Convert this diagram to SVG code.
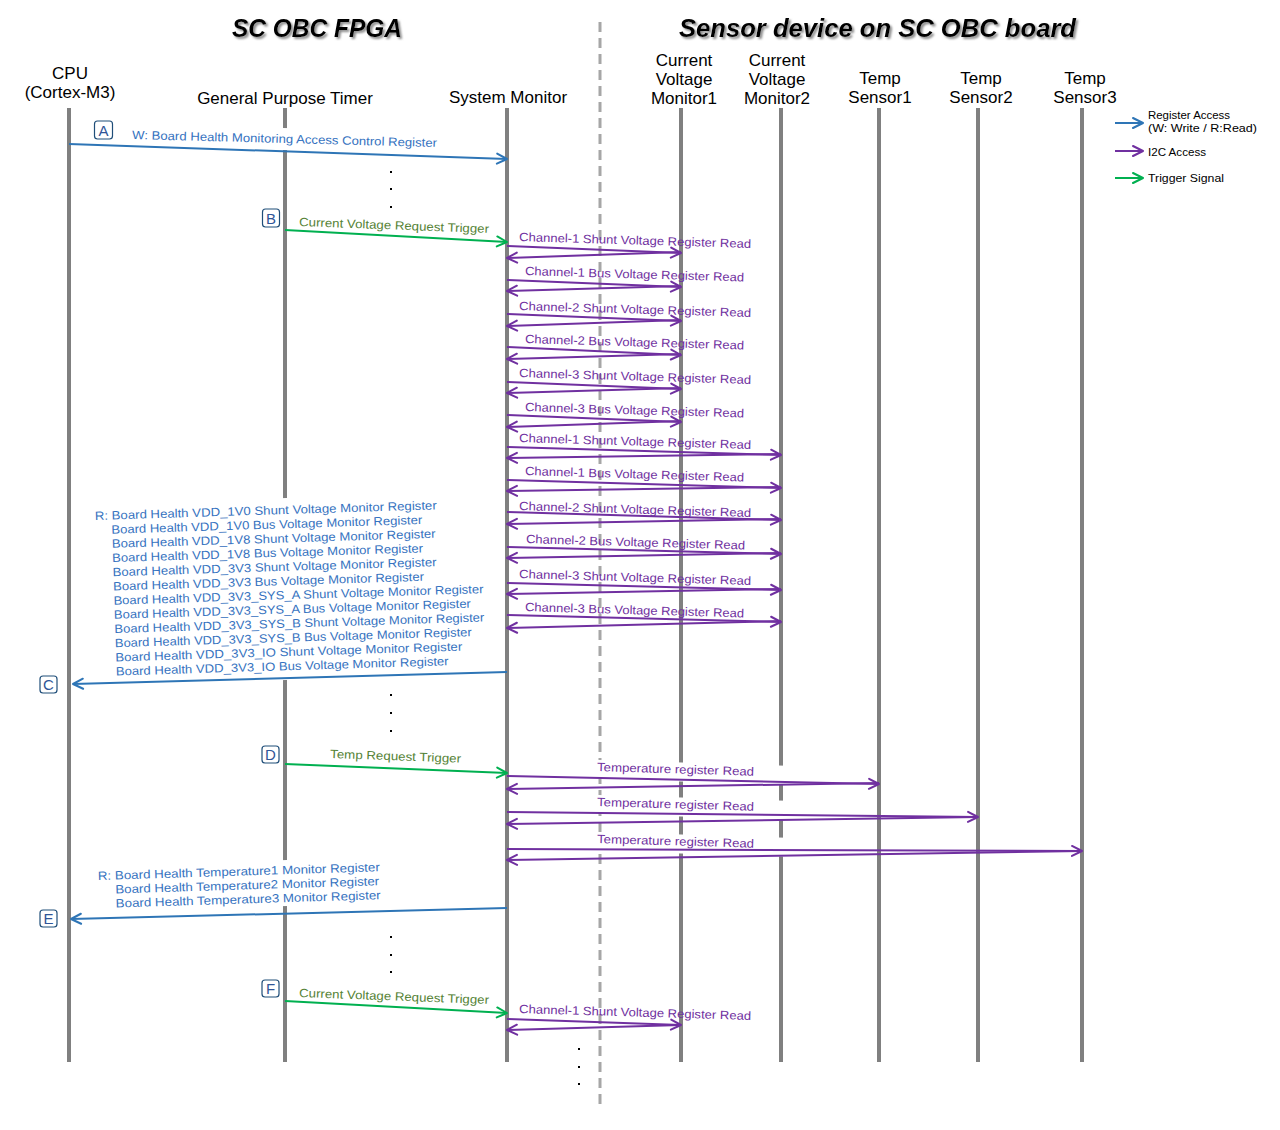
<svg xmlns="http://www.w3.org/2000/svg" width="1280" height="1130" viewBox="0 0 1280 1130">
<defs>
<style>
.ll{stroke:#808080;stroke-width:4;fill:none}
.nl{font-family:"Liberation Sans",Arial,sans-serif;font-size:17px;fill:#000;text-anchor:middle}
.ttl{font-family:"Liberation Sans",Arial,sans-serif;font-size:25px;font-weight:bold;font-style:italic;fill:#000;text-anchor:middle}
.lb{font-family:"Liberation Sans",Arial,sans-serif;font-size:12px}
.tb{fill:#3572C0}
.tg{fill:#548235}
.tp{fill:#7030A0}
.ab{stroke:#2E75B6;stroke-width:2;fill:none;marker-end:url(#mb)}
.ag{stroke:#00B050;stroke-width:2;fill:none;marker-end:url(#mg)}
.ap{stroke:#7030A0;stroke-width:2;fill:none;marker-end:url(#mp)}
.bx{fill:#fff;stroke:#1F4E79;stroke-width:1.2}
.bt{font-family:"Liberation Sans",Arial,sans-serif;font-size:15px;fill:#2F5597;text-anchor:middle}
.lg{font-family:"Liberation Sans",Arial,sans-serif;font-size:11px;fill:#000}
.wb{fill:#fff;stroke:none}
.dot{fill:#000}
</style>
<marker id="mb" viewBox="0 0 12 12" refX="11.5" refY="6" markerWidth="12" markerHeight="12" markerUnits="userSpaceOnUse" orient="auto" overflow="visible"><path d="M1.5,1 L11.5,6 L1.5,11" fill="none" stroke="#2E75B6" stroke-width="2" stroke-linejoin="round" stroke-linecap="round"/></marker>
<marker id="mg" viewBox="0 0 12 12" refX="11.5" refY="6" markerWidth="12" markerHeight="12" markerUnits="userSpaceOnUse" orient="auto" overflow="visible"><path d="M1.5,1 L11.5,6 L1.5,11" fill="none" stroke="#00B050" stroke-width="2" stroke-linejoin="round" stroke-linecap="round"/></marker>
<marker id="mp" viewBox="0 0 12 12" refX="11.5" refY="6" markerWidth="12" markerHeight="12" markerUnits="userSpaceOnUse" orient="auto" overflow="visible"><path d="M1.5,1 L11.5,6 L1.5,11" fill="none" stroke="#7030A0" stroke-width="2" stroke-linejoin="round" stroke-linecap="round"/></marker>
<filter id="sh" x="-10%" y="-30%" width="120%" height="160%"><feDropShadow dx="2" dy="2" stdDeviation="1.2" flood-color="#7F7F7F" flood-opacity="0.9"/></filter>
</defs>
<rect width="1280" height="1130" fill="#fff"/>

<g id="titles" filter="url(#sh)">
<text class="ttl" x="317" y="37" textLength="170" lengthAdjust="spacingAndGlyphs">SC OBC FPGA</text>
<text class="ttl" x="877.5" y="37" textLength="397" lengthAdjust="spacingAndGlyphs">Sensor device on SC OBC board</text>
</g>

<line id="divider" x1="600" y1="22" x2="600" y2="1105" stroke="#A6A6A6" stroke-width="3" stroke-dasharray="10,6"/>

<g id="node-cpu"><text class="nl" x="70" y="79">CPU</text><text class="nl" x="70" y="98">(Cortex-M3)</text><line class="ll" x1="69" y1="108" x2="69" y2="1062"/></g>
<g id="node-gpt"><text class="nl" x="285" y="104">General Purpose Timer</text><line class="ll" x1="285" y1="108" x2="285" y2="1062"/></g>
<g id="node-sysmon"><text class="nl" x="508" y="103">System Monitor</text><line class="ll" x1="507" y1="108" x2="507" y2="1062"/></g>
<g id="node-cvm1"><text class="nl" x="684" y="66">Current</text><text class="nl" x="684" y="85">Voltage</text><text class="nl" x="684" y="104">Monitor1</text><line class="ll" x1="681" y1="108" x2="681" y2="1062"/></g>
<g id="node-cvm2"><text class="nl" x="777" y="66">Current</text><text class="nl" x="777" y="85">Voltage</text><text class="nl" x="777" y="104">Monitor2</text><line class="ll" x1="781" y1="108" x2="781" y2="1062"/></g>
<g id="node-ts1"><text class="nl" x="880" y="84">Temp</text><text class="nl" x="880" y="103">Sensor1</text><line class="ll" x1="879" y1="108" x2="879" y2="1062"/></g>
<g id="node-ts2"><text class="nl" x="981" y="84">Temp</text><text class="nl" x="981" y="103">Sensor2</text><line class="ll" x1="978" y1="108" x2="978" y2="1062"/></g>
<g id="node-ts3"><text class="nl" x="1085" y="84">Temp</text><text class="nl" x="1085" y="103">Sensor3</text><line class="ll" x1="1082" y1="108" x2="1082" y2="1062"/></g>

<g id="label-backgrounds">
<rect class="wb" x="128" y="124" width="313" height="22" transform="rotate(1.5 132 139)"/>
<rect class="wb" x="90" y="504" width="398" height="182" transform="rotate(-1.8 95 520)"/>
<rect class="wb" x="94" y="866" width="292" height="46" transform="rotate(-1.8 98 880)"/>
<rect class="wb" x="590" y="760" width="205" height="19" transform="rotate(1.7 597 771)"/>
<rect class="wb" x="590" y="795" width="205" height="19" transform="rotate(1.7 597 806)"/>
<rect class="wb" x="590" y="832" width="205" height="19" transform="rotate(1.7 597 843)"/>
</g>

<g id="dots">
<rect class="dot" x="390" y="171" width="2" height="2"/><rect class="dot" x="390" y="188" width="2" height="2"/><rect class="dot" x="390" y="206" width="2" height="2"/>
<rect class="dot" x="390" y="694" width="2" height="2"/><rect class="dot" x="390" y="712" width="2" height="2"/><rect class="dot" x="390" y="730" width="2" height="2"/>
<rect class="dot" x="390" y="936" width="2" height="2"/><rect class="dot" x="390" y="954" width="2" height="2"/><rect class="dot" x="390" y="971" width="2" height="2"/>
<rect class="dot" x="578" y="1048" width="2" height="2"/><rect class="dot" x="578" y="1066" width="2" height="2"/><rect class="dot" x="578" y="1083" width="2" height="2"/>
</g>

<g id="connectors">
<!-- A -->
<line class="ab" x1="69" y1="144" x2="507" y2="159"/>
<text class="lb tb" x="132" y="139" textLength="305" lengthAdjust="spacingAndGlyphs" transform="rotate(1.5 132 139)">W: Board Health Monitoring Access Control Register</text>
<!-- B -->
<line class="ag" x1="285" y1="230" x2="507" y2="242"/>
<text class="lb tg" x="299" y="226" textLength="190" lengthAdjust="spacingAndGlyphs" transform="rotate(2.1 299 226)">Current Voltage Request Trigger</text>
<!-- CVM1 reads -->
<line class="ap" x1="507" y1="246" x2="681" y2="253"/><line class="ap" x1="681" y1="252" x2="507" y2="258"/>
<text class="lb tp" x="519" y="241" textLength="232" lengthAdjust="spacingAndGlyphs" transform="rotate(1.7 519 241)">Channel-1 Shunt Voltage Register Read</text>
<line class="ap" x1="507" y1="280" x2="681" y2="287"/><line class="ap" x1="681" y1="286" x2="507" y2="291"/>
<text class="lb tp" x="525" y="275" textLength="219" lengthAdjust="spacingAndGlyphs" transform="rotate(1.7 525 275)">Channel-1 Bus Voltage Register Read</text>
<line class="ap" x1="507" y1="314" x2="681" y2="321"/><line class="ap" x1="681" y1="320" x2="507" y2="326"/>
<text class="lb tp" x="519" y="310" textLength="232" lengthAdjust="spacingAndGlyphs" transform="rotate(1.7 519 310)">Channel-2 Shunt Voltage Register Read</text>
<line class="ap" x1="507" y1="347" x2="681" y2="355"/><line class="ap" x1="681" y1="354" x2="507" y2="359"/>
<text class="lb tp" x="525" y="343" textLength="219" lengthAdjust="spacingAndGlyphs" transform="rotate(1.7 525 343)">Channel-2 Bus Voltage Register Read</text>
<line class="ap" x1="507" y1="382" x2="681" y2="389"/><line class="ap" x1="681" y1="388" x2="507" y2="393"/>
<text class="lb tp" x="519" y="377" textLength="232" lengthAdjust="spacingAndGlyphs" transform="rotate(1.7 519 377)">Channel-3 Shunt Voltage Register Read</text>
<line class="ap" x1="507" y1="415" x2="681" y2="422"/><line class="ap" x1="681" y1="421" x2="507" y2="427"/>
<text class="lb tp" x="525" y="411" textLength="219" lengthAdjust="spacingAndGlyphs" transform="rotate(1.7 525 411)">Channel-3 Bus Voltage Register Read</text>
<!-- CVM2 reads -->
<line class="ap" x1="507" y1="447" x2="781" y2="455"/><line class="ap" x1="781" y1="454" x2="507" y2="458"/>
<text class="lb tp" x="519" y="442" textLength="232" lengthAdjust="spacingAndGlyphs" transform="rotate(1.7 519 442)">Channel-1 Shunt Voltage Register Read</text>
<line class="ap" x1="507" y1="480" x2="781" y2="488"/><line class="ap" x1="781" y1="487" x2="507" y2="491"/>
<text class="lb tp" x="525" y="475" textLength="219" lengthAdjust="spacingAndGlyphs" transform="rotate(1.7 525 475)">Channel-1 Bus Voltage Register Read</text>
<line class="ap" x1="507" y1="512" x2="781" y2="520"/><line class="ap" x1="781" y1="519" x2="507" y2="524"/>
<text class="lb tp" x="519" y="510" textLength="232" lengthAdjust="spacingAndGlyphs" transform="rotate(1.7 519 510)">Channel-2 Shunt Voltage Register Read</text>
<line class="ap" x1="507" y1="547" x2="781" y2="554"/><line class="ap" x1="781" y1="553" x2="507" y2="558"/>
<text class="lb tp" x="526" y="543" textLength="219" lengthAdjust="spacingAndGlyphs" transform="rotate(1.7 526 543)">Channel-2 Bus Voltage Register Read</text>
<line class="ap" x1="507" y1="583" x2="781" y2="590"/><line class="ap" x1="781" y1="589" x2="507" y2="594"/>
<text class="lb tp" x="519" y="578" textLength="232" lengthAdjust="spacingAndGlyphs" transform="rotate(1.7 519 578)">Channel-3 Shunt Voltage Register Read</text>
<line class="ap" x1="507" y1="615" x2="781" y2="622"/><line class="ap" x1="781" y1="621" x2="507" y2="628"/>
<text class="lb tp" x="525" y="611" textLength="219" lengthAdjust="spacingAndGlyphs" transform="rotate(1.7 525 611)">Channel-3 Bus Voltage Register Read</text>
<!-- C -->
<line class="ab" x1="507" y1="672" x2="73" y2="684"/>
<g class="lb tb" transform="rotate(-1.8 95 520)">
<text x="95" y="520" textLength="342" lengthAdjust="spacingAndGlyphs">R: Board Health VDD_1V0 Shunt Voltage Monitor Register</text>
<text x="111" y="534.2" textLength="311" lengthAdjust="spacingAndGlyphs">Board Health VDD_1V0 Bus Voltage Monitor Register</text>
<text x="111" y="548.4" textLength="324" lengthAdjust="spacingAndGlyphs">Board Health VDD_1V8 Shunt Voltage Monitor Register</text>
<text x="111" y="562.6" textLength="311" lengthAdjust="spacingAndGlyphs">Board Health VDD_1V8 Bus Voltage Monitor Register</text>
<text x="111" y="576.8" textLength="324" lengthAdjust="spacingAndGlyphs">Board Health VDD_3V3 Shunt Voltage Monitor Register</text>
<text x="111" y="591" textLength="311" lengthAdjust="spacingAndGlyphs">Board Health VDD_3V3 Bus Voltage Monitor Register</text>
<text x="111" y="605.2" textLength="370" lengthAdjust="spacingAndGlyphs">Board Health VDD_3V3_SYS_A Shunt Voltage Monitor Register</text>
<text x="111" y="619.4" textLength="357" lengthAdjust="spacingAndGlyphs">Board Health VDD_3V3_SYS_A Bus Voltage Monitor Register</text>
<text x="111" y="633.6" textLength="370" lengthAdjust="spacingAndGlyphs">Board Health VDD_3V3_SYS_B Shunt Voltage Monitor Register</text>
<text x="111" y="647.8" textLength="357" lengthAdjust="spacingAndGlyphs">Board Health VDD_3V3_SYS_B Bus Voltage Monitor Register</text>
<text x="111" y="662" textLength="347" lengthAdjust="spacingAndGlyphs">Board Health VDD_3V3_IO Shunt Voltage Monitor Register</text>
<text x="111" y="676.2" textLength="333" lengthAdjust="spacingAndGlyphs">Board Health VDD_3V3_IO Bus Voltage Monitor Register</text>
</g>
<!-- D -->
<line class="ag" x1="285" y1="764" x2="507" y2="773"/>
<text class="lb tg" x="330" y="758" textLength="131" lengthAdjust="spacingAndGlyphs" transform="rotate(2 330 758)">Temp Request Trigger</text>
<!-- Temp reads -->
<line class="ap" x1="507" y1="776" x2="879" y2="784"/><line class="ap" x1="879" y1="783" x2="507" y2="789"/>
<text class="lb tp" x="597" y="771" textLength="157" lengthAdjust="spacingAndGlyphs" transform="rotate(1.7 597 771)">Temperature register Read</text>
<line class="ap" x1="507" y1="812" x2="978" y2="817"/><line class="ap" x1="978" y1="817" x2="507" y2="824"/>
<text class="lb tp" x="597" y="806" textLength="157" lengthAdjust="spacingAndGlyphs" transform="rotate(1.7 597 806)">Temperature register Read</text>
<line class="ap" x1="507" y1="849" x2="1082" y2="851"/><line class="ap" x1="1082" y1="851" x2="507" y2="860"/>
<text class="lb tp" x="597" y="843" textLength="157" lengthAdjust="spacingAndGlyphs" transform="rotate(1.7 597 843)">Temperature register Read</text>
<!-- E -->
<line class="ab" x1="507" y1="908" x2="71" y2="919"/>
<g class="lb tb" transform="rotate(-1.8 98 880)">
<text x="98" y="880" textLength="282" lengthAdjust="spacingAndGlyphs">R: Board Health Temperature1 Monitor Register</text>
<text x="115" y="894" textLength="264" lengthAdjust="spacingAndGlyphs">Board Health Temperature2 Monitor Register</text>
<text x="115" y="908" textLength="265" lengthAdjust="spacingAndGlyphs">Board Health Temperature3 Monitor Register</text>
</g>
<!-- F -->
<line class="ag" x1="285" y1="1001" x2="507" y2="1013"/>
<text class="lb tg" x="299" y="997" textLength="190" lengthAdjust="spacingAndGlyphs" transform="rotate(2.1 299 997)">Current Voltage Request Trigger</text>
<line class="ap" x1="507" y1="1019" x2="681" y2="1025"/><line class="ap" x1="681" y1="1025" x2="507" y2="1030"/>
<text class="lb tp" x="519" y="1013" textLength="232" lengthAdjust="spacingAndGlyphs" transform="rotate(1.7 519 1013)">Channel-1 Shunt Voltage Register Read</text>
</g>

<g id="step-labels">
<g id="step-A"><rect class="bx" x="94.5" y="121" width="18" height="18" rx="3"/><text class="bt" x="103.5" y="135.5">A</text></g>
<g id="step-B"><rect class="bx" x="262.5" y="209" width="17" height="18" rx="3"/><text class="bt" x="271" y="223.5">B</text></g>
<g id="step-C"><rect class="bx" x="40" y="676" width="17" height="17" rx="3"/><text class="bt" x="48.5" y="690">C</text></g>
<g id="step-D"><rect class="bx" x="262" y="746" width="17" height="17" rx="3"/><text class="bt" x="270.5" y="760">D</text></g>
<g id="step-E"><rect class="bx" x="40" y="910" width="17" height="17" rx="3"/><text class="bt" x="48.5" y="924">E</text></g>
<g id="step-F"><rect class="bx" x="262" y="980" width="17" height="17" rx="3"/><text class="bt" x="270.5" y="994">F</text></g>
</g>

<g id="legend">
<line class="ab" x1="1115" y1="123" x2="1143" y2="123"/>
<text class="lg" x="1148" y="119" textLength="82" lengthAdjust="spacingAndGlyphs">Register Access</text>
<text class="lg" x="1148" y="132" textLength="109" lengthAdjust="spacingAndGlyphs">(W: Write / R:Read)</text>
<line class="ap" x1="1115" y1="151" x2="1143" y2="151"/>
<text class="lg" x="1148" y="156" textLength="58" lengthAdjust="spacingAndGlyphs">I2C Access</text>
<line class="ag" x1="1115" y1="178" x2="1143" y2="178"/>
<text class="lg" x="1148" y="182" textLength="76" lengthAdjust="spacingAndGlyphs">Trigger Signal</text>
</g>
</svg>
